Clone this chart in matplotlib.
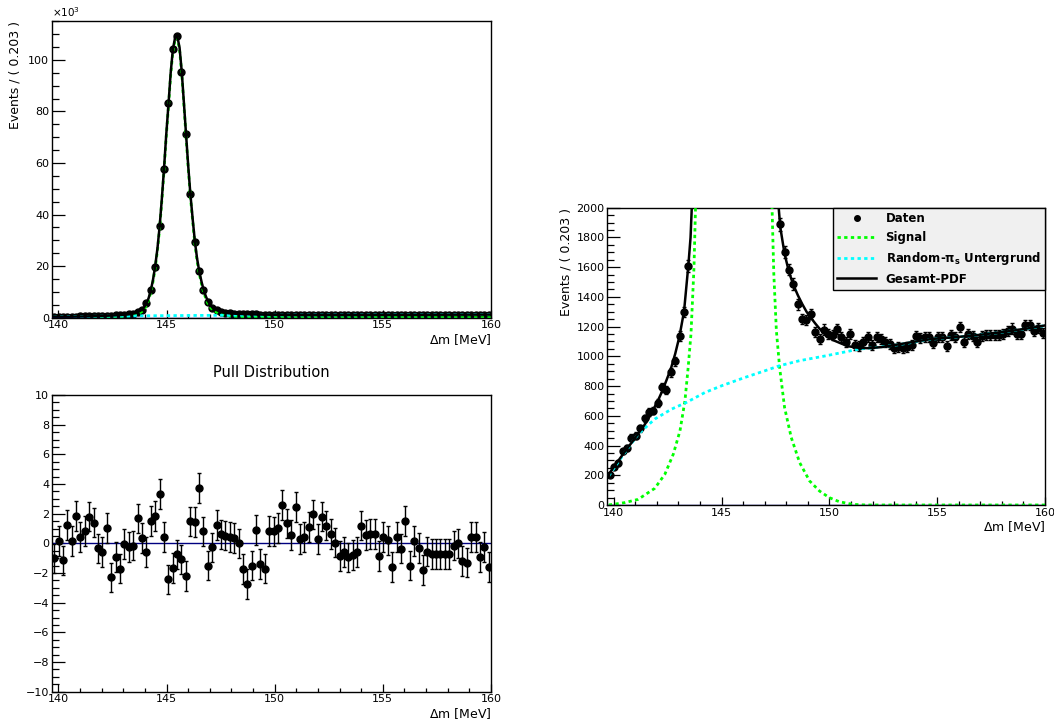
import numpy as np
import matplotlib
matplotlib.use('Agg')
import matplotlib.pyplot as plt
from matplotlib.ticker import MultipleLocator, FuncFormatter
from matplotlib.lines import Line2D

plt.rcParams['font.family'] = ['DejaVu Sans']
plt.rcParams['mathtext.default'] = 'regular'

## Binning of the Delta-m histogram ##
x_min, x_max, n_bins = 139.7, 160.0, 100
bin_width = 0.203

## Events per bin ##
counts = [202, 258, 281, 360, 382, 454, 467, 517, 584, 625,
          634, 685, 791, 775, 892, 966, 1135, 1299, 1611, 2250,
          3100, 5600, 10700, 19800, 35400, 57600, 83200, 104100, 109100, 95500,
          71300, 48000, 29500, 18000, 10600, 6200, 3600, 2800, 2250, 1888,
          1703, 1584, 1488, 1350, 1252, 1245, 1285, 1165, 1117, 1180,
          1151, 1146, 1184, 1128, 1094, 1151, 1076, 1072, 1099, 1128,
          1076, 1128, 1117, 1099, 1083, 1054, 1065, 1054, 1061, 1076,
          1139, 1124, 1133, 1128, 1088, 1133, 1128, 1072, 1146, 1128,
          1196, 1094, 1151, 1139, 1094, 1139, 1146, 1146, 1146, 1146,
          1151, 1169, 1187, 1151, 1151, 1209, 1213, 1169, 1191, 1157]

## Pulls per bin ##
pulls = [-1.02, 0.16, -1.15, 1.22, 0.18, 1.84, 0.43, 0.82, 1.80, 1.40,
         -0.34, -0.60, 1.02, -2.30, -0.90, -1.70, -0.05, -0.25, -0.15, 1.68,
         0.34, -0.60, 1.52, 1.85, 3.33, 0.43, -2.43, -1.64, -0.75, -1.08,
         -2.18, 1.48, 1.42, 3.75, 0.80, -1.50, -0.27, 1.24, 0.60, 0.52,
         0.45, 0.38, 0.00, -1.75, -2.75, -1.50, 0.90, -1.40, -1.70, 0.85,
         0.80, 1.05, 2.60, 1.35, 0.55, 2.45, 0.30, 0.45, 1.10, 1.95,
         0.30, 1.80, 1.20, 0.65, 0.05, -0.85, -0.60, -0.95, -0.80, -0.60,
         1.20, 0.55, 0.65, 0.65, -0.85, 0.45, 0.20, -1.60, 0.45, -0.35,
         1.50, -1.50, 0.15, -0.30, -1.80, -0.55, -0.70, -0.70, -0.70, -0.70,
         -0.70, -0.15, 0.00, -1.20, -1.30, 0.45, 0.45, -0.90, -0.25, -1.60]

## Fit curves ##
total_x = [139.77, 139.80, 140.00, 140.21, 140.41, 140.61, 140.82, 141.02, 141.22, 141.43,
           141.63, 141.83, 142.04, 142.24, 142.44, 142.65, 142.85, 143.05, 143.26, 143.46,
           143.56, 143.66, 143.76, 143.86, 143.96, 144.07, 144.17, 144.27, 144.37, 144.47,
           144.58, 144.68, 144.78, 144.88, 144.98, 145.09, 145.19, 145.29, 145.39, 145.49,
           145.60, 145.70, 145.80, 145.90, 146.00, 146.10, 146.21, 146.31, 146.41, 146.51,
           146.62, 146.72, 146.82, 146.92, 147.02, 147.12, 147.23, 147.33, 147.43, 147.53,
           147.62, 147.72, 147.92, 148.13, 148.33, 148.54, 148.74, 148.94, 149.15, 149.35,
           149.55, 149.76, 149.96, 150.16, 150.57, 150.87, 151.38, 151.80, 152.41, 153.19,
           154.00, 154.74, 155.50, 156.28, 157.00, 157.83, 158.60, 159.38, 160.00]
total_y = [196, 214, 255, 298, 338, 378, 418, 458, 498, 540,
           588, 642, 700, 764, 838, 918, 1018, 1137, 1305, 1615,
           1800, 2150, 2550, 3100, 4000, 5500, 7600, 10600, 14600, 19800,
           27000, 35500, 46000, 57600, 70500, 83000, 95000, 104000, 108500, 109400,
           104800, 95600, 83500, 71200, 59000, 48000, 38000, 29500, 23000, 18000,
           13800, 10600, 8200, 6300, 4900, 3900, 3300, 2900, 2500, 2250,
           2050, 1870, 1690, 1565, 1480, 1410, 1352, 1300, 1258, 1220,
           1185, 1155, 1130, 1110, 1085, 1068, 1057, 1055, 1062, 1080,
           1100, 1117, 1125, 1135, 1145, 1160, 1175, 1192, 1208]

sig_x = [139.77, 140.51, 141.13, 141.90, 142.37, 142.76, 143.07, 143.30, 143.45, 143.58,
         143.65, 143.72, 143.79, 143.86, 143.96, 144.07, 144.17, 144.27, 144.37, 144.47,
         144.58, 144.68, 144.78, 144.88, 144.98, 145.09, 145.19, 145.29, 145.39, 145.49,
         145.60, 145.70, 145.80, 145.90, 146.00, 146.10, 146.21, 146.31, 146.41, 146.51,
         146.62, 146.72, 146.82, 146.92, 147.02, 147.12, 147.23, 147.34, 147.42, 147.54,
         147.69, 147.92, 148.23, 148.62, 149.08, 149.54, 150.00, 150.46, 151.08, 151.69,
         160.00]
sig_y = [0, 16, 38, 112, 207, 342, 499, 701, 926, 1151,
         1375, 1600, 2000, 2400, 3300, 4800, 6850, 9850, 13850, 19050,
         26230, 34720, 45220, 56810, 69700, 82200, 94200, 103200, 107700, 108600,
         104000, 94750, 82650, 70340, 58140, 47140, 37140, 28630, 22130, 17120,
         12920, 9720, 7310, 5400, 4100, 3100, 2500, 2000, 1560, 1173,
         926, 656, 454, 285, 162, 94, 49, 22, 4, 0,
         0]

bkg_x = [139.77, 140.51, 141.13, 141.90, 142.68, 143.37, 144.23, 145.00, 146.08, 147.01,
         147.69, 148.62, 149.85, 151.38, 152.00, 153.19, 154.74, 156.28, 157.83, 159.38,
         160.00]
bkg_y = [196, 353, 476, 578, 645, 690, 757, 802, 858, 903,
         937, 971, 1004, 1049, 1057, 1078, 1116, 1134, 1159, 1191,
         1207]

centers = x_min + bin_width * (np.arange(n_bins) + 0.5)
counts = np.array(counts)
errs = np.sqrt(counts)

GREEN = '#00ff00'
CYAN = '#00ffff'
NAVY = '#000080'
dash = (0, (1.2, 1.2))


def root_style(ax, ymaj, ymin_):
    ax.set_xlim(x_min, x_max)
    ax.xaxis.set_major_locator(MultipleLocator(5))
    ax.xaxis.set_minor_locator(MultipleLocator(1))
    ax.yaxis.set_major_locator(MultipleLocator(ymaj))
    ax.yaxis.set_minor_locator(MultipleLocator(ymin_))
    ax.tick_params(which='both', direction='in', top=False, right=False, labelsize=8, pad=2)
    ax.tick_params(axis='y', which='major', length=9.5, width=0.9)
    ax.tick_params(axis='y', which='minor', length=5, width=0.9)
    ax.tick_params(axis='x', which='major', length=6, width=0.9)
    ax.tick_params(axis='x', which='minor', length=3, width=0.9)
    for s in ax.spines.values():
        s.set_linewidth(1.0)


def draw_fit(ax):
    ax.errorbar(centers, counts, yerr=errs, fmt='o', ms=5, color='k', ecolor='k',
                elinewidth=1, capsize=1.5, zorder=3)
    ax.plot(sig_x, sig_y, color=GREEN, lw=2, ls=dash, dash_capstyle='butt', zorder=4)
    ax.plot(bkg_x, bkg_y, color=CYAN, lw=2, ls=dash, dash_capstyle='butt', zorder=4)
    ax.plot(total_x, total_y, color='k', lw=1.8, zorder=5)
    ax.axhline(0, color=NAVY, lw=1, zorder=6)


fig = plt.figure(figsize=(10.54, 7.24), dpi=100)

## Oben links: komplette Verteilung ##
ax1 = fig.add_axes([0.0493, 0.5612, 0.4165, 0.4098])
draw_fit(ax1)
root_style(ax1, 20000, 5000)
ax1.set_ylim(0, 115100)
ax1.yaxis.set_major_formatter(FuncFormatter(lambda v, p: '%d' % round(v / 1000)))
ax1.text(0.0, 1.006, r'$\times$10$^{3}$', transform=ax1.transAxes, fontsize=7.5, ha='left', va='bottom')
ax1.set_ylabel('Events / ( 0.203 )', loc='top', fontsize=9, labelpad=5)
ax1.set_xlabel(r'$\Delta$m [MeV]', loc='right', fontsize=9, labelpad=1)

## Unten links: Pulls ##
ax2 = fig.add_axes([0.0493, 0.0446, 0.4165, 0.4098])
ax2.axhline(0, color=NAVY, lw=1, zorder=2)
ax2.errorbar(centers, pulls, yerr=1.0, fmt='o', ms=5, color='k', ecolor='k',
             elinewidth=1, capsize=1.5, zorder=3)
root_style(ax2, 2, 0.5)
ax2.set_ylim(-10, 10)
ax2.set_title('Pull Distribution', fontsize=10.5, pad=13)
ax2.set_xlabel(r'$\Delta$m [MeV]', loc='right', fontsize=9, labelpad=1)

## Rechts: Zoom auf den Untergrund ##
ax3 = fig.add_axes([0.5762, 0.3025, 0.4153, 0.4106])
draw_fit(ax3)
root_style(ax3, 200, 50)
ax3.set_ylim(0, 2000)
ax3.set_ylabel('Events / ( 0.203 )', loc='top', fontsize=9, labelpad=3)
ax3.set_xlabel(r'$\Delta$m [MeV]', loc='right', fontsize=9, labelpad=1)

handles = [
    Line2D([], [], marker='o', ms=4, color='k', ls='none'),
    Line2D([], [], color=GREEN, lw=2, ls=dash, dash_capstyle='butt'),
    Line2D([], [], color=CYAN, lw=2, ls=dash, dash_capstyle='butt'),
    Line2D([], [], color='k', lw=1.8),
]
labels = ['Daten', 'Signal', r'Random-$\pi_{s}$ Untergrund', 'Gesamt-PDF']
leg = ax3.legend(handles, labels, loc='upper right', bbox_to_anchor=(1.0, 1.0), borderaxespad=0,
                 fancybox=False, edgecolor='k', facecolor='#f0f0f0', framealpha=1,
                 prop={'weight': 'bold', 'size': 8.5}, handlelength=3.3,
                 labelspacing=0.5, borderpad=0.35, handletextpad=0.8)
leg.get_frame().set_linewidth(1.0)

fig.savefig('out.png', dpi=100)
